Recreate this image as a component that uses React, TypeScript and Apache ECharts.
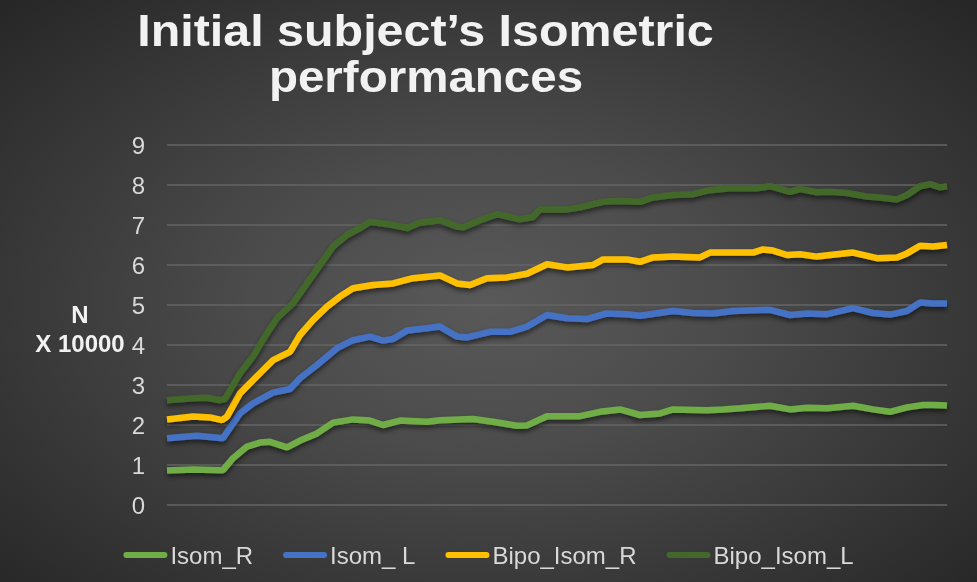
import React, { useEffect, useRef } from "react";
import * as echarts from "echarts";

// sample index (time) and force (N x 10000)
const isomR: [number, number][] = [
  [0, 0.86], [26, 0.89], [56, 0.87], [66, 1.17], [80, 1.46], [93, 1.56], [103, 1.58],
  [120, 1.44], [133, 1.61], [150, 1.79], [166, 2.06], [186, 2.14], [203, 2.11], [216, 2.0],
  [233, 2.11], [260, 2.08], [273, 2.12], [306, 2.15], [326, 2.08], [350, 1.98], [360, 1.99],
  [380, 2.22], [413, 2.22], [433, 2.33], [453, 2.39], [473, 2.25], [493, 2.29], [506, 2.39],
  [540, 2.37], [556, 2.39], [573, 2.42], [603, 2.48], [623, 2.39], [640, 2.43], [660, 2.42],
  [686, 2.48], [706, 2.39], [723, 2.33], [740, 2.44], [756, 2.5], [766, 2.5], [780, 2.49],
];
const isomL: [number, number][] = [
  [0, 1.67], [30, 1.73], [56, 1.67], [73, 2.29], [86, 2.54], [106, 2.81], [123, 2.9],
  [133, 3.17], [150, 3.5], [170, 3.92], [186, 4.12], [203, 4.21], [216, 4.11], [226, 4.15],
  [240, 4.36], [260, 4.42], [273, 4.46], [290, 4.21], [300, 4.19], [323, 4.33], [343, 4.33],
  [360, 4.46], [380, 4.75], [400, 4.67], [420, 4.65], [440, 4.79], [460, 4.77], [473, 4.73],
  [506, 4.85], [526, 4.8], [546, 4.79], [566, 4.85], [586, 4.87], [603, 4.88], [623, 4.75],
  [640, 4.79], [660, 4.77], [686, 4.92], [706, 4.8], [723, 4.76], [740, 4.85], [753, 5.06],
  [766, 5.04], [780, 5.04],
];
const bipoIsomR: [number, number][] = [
  [0, 2.14], [26, 2.21], [43, 2.19], [55, 2.12], [60, 2.21], [73, 2.79], [86, 3.12],
  [106, 3.62], [123, 3.83], [133, 4.25], [146, 4.62], [160, 4.96], [173, 5.21], [186, 5.42],
  [206, 5.5], [226, 5.54], [246, 5.67], [273, 5.74], [290, 5.54], [303, 5.5], [320, 5.67],
  [340, 5.69], [360, 5.78], [380, 6.02], [400, 5.94], [426, 6.0], [436, 6.14], [460, 6.14],
  [473, 6.08], [486, 6.19], [506, 6.21], [533, 6.19], [543, 6.31], [566, 6.31], [586, 6.31],
  [596, 6.39], [606, 6.36], [620, 6.25], [633, 6.27], [650, 6.21], [663, 6.25], [686, 6.31],
  [710, 6.17], [730, 6.19], [740, 6.29], [753, 6.48], [766, 6.46], [780, 6.5],
];
const bipoIsomL: [number, number][] = [
  [0, 2.62], [26, 2.67], [40, 2.68], [53, 2.62], [58, 2.65], [73, 3.29], [86, 3.71],
  [100, 4.29], [110, 4.67], [126, 5.04], [140, 5.54], [153, 6.0], [166, 6.46], [180, 6.75],
  [193, 6.92], [203, 7.08], [226, 7.0], [240, 6.92], [253, 7.06], [273, 7.12], [290, 6.96],
  [296, 6.94], [313, 7.12], [330, 7.27], [353, 7.14], [366, 7.2], [373, 7.39], [400, 7.39],
  [413, 7.44], [436, 7.58], [453, 7.6], [473, 7.58], [486, 7.69], [506, 7.75], [526, 7.77],
  [543, 7.87], [563, 7.92], [590, 7.92], [603, 7.97], [623, 7.83], [633, 7.9], [650, 7.82],
  [663, 7.83], [680, 7.8], [700, 7.71], [713, 7.69], [730, 7.64], [740, 7.75], [753, 7.97],
  [763, 8.02], [773, 7.94], [780, 7.97],
];

const seriesNames = ["Isom_R", "Isom_ L", "Bipo_Isom_R", "Bipo_Isom_L"];
const seriesColors = ["#70AD47", "#4472C4", "#FFC000", "#43682B"];
const seriesData = [isomR, isomL, bipoIsomR, bipoIsomL];
const titleLines = ["Initial subject\u2019s Isometric", "performances"];
const axisTitle = "N\nX 10000";

const FONT = '"Liberation Sans", Arial, sans-serif';

export default function App() {
  const ref = useRef<HTMLDivElement>(null);
  useEffect(() => {
    if (!ref.current) return;
    const chart = echarts.init(ref.current, undefined, { renderer: "svg" });
    const legendIcon = "path://M3,0 H41 A3,3 0 0 1 41,6 H3 A3,3 0 0 1 3,0 Z";
    chart.setOption({
      animation: false,
      backgroundColor: "transparent",
      textStyle: { fontFamily: FONT },
      grid: { left: 167, right: 30, top: 145, bottom: 77 },
      xAxis: {
        type: "value",
        min: 0,
        max: 780,
        show: false,
        splitLine: { show: false },
      },
      yAxis: {
        type: "value",
        min: 0,
        max: 9,
        interval: 1,
        axisLine: { show: false },
        axisTick: { show: false },
        axisLabel: { color: "#d9d9d9", fontSize: 24, margin: 22, fontFamily: FONT },
        splitLine: { lineStyle: { color: "#646464", width: 1.5 } },
      },
      legend: {
        left: "center",
        top: 538,
        itemWidth: 44,
        itemHeight: 6,
        itemGap: 30,
        icon: legendIcon,
        textStyle: { color: "#d9d9d9", fontSize: 24, fontFamily: FONT, padding: [0, 0, 0, -2] },
        data: seriesNames,
      },
      graphic: [
        {
          type: "text",
          x: 425.5,
          y: 31,
          scaleX: 1.1,
          style: {
            text: titleLines[0],
            font: `bold 44px ${FONT}`,
            fill: "#f2f2f2",
            align: "center",
            verticalAlign: "middle",
            shadowColor: "rgba(0,0,0,0.6)",
            shadowBlur: 4,
            shadowOffsetY: 2,
          },
        },
        {
          type: "text",
          x: 426,
          y: 77,
          scaleX: 1.08,
          style: {
            text: titleLines[1],
            font: `bold 44px ${FONT}`,
            fill: "#f2f2f2",
            align: "center",
            verticalAlign: "middle",
            shadowColor: "rgba(0,0,0,0.6)",
            shadowBlur: 4,
            shadowOffsetY: 2,
          },
        },
        {
          type: "text",
          x: 80,
          y: 329,
          style: {
            text: axisTitle,
            font: `bold 24px ${FONT}`,
            fill: "#f2f2f2",
            align: "center",
            verticalAlign: "middle",
            lineHeight: 29,
          },
        },
      ],
      series: seriesData.map((d, i) => ({
        name: seriesNames[i],
        type: "line",
        data: d,
        symbol: "none",
        smooth: false,
        color: seriesColors[i],
        lineStyle: {
          color: seriesColors[i],
          width: 6.5,
          shadowColor: "rgba(0,0,0,0.55)",
          shadowBlur: 5,
          shadowOffsetY: 3,
        },
        itemStyle: { color: seriesColors[i] },
      })),
    });
    return () => chart.dispose();
  }, []);
  return (
    <div
      ref={ref}
      style={{
        position: "fixed",
        left: 0,
        top: 0,
        width: 977,
        height: 582,
        background:
          "radial-gradient(ellipse farthest-corner at 50% 52%, #595959 0%, #4b4b4b 35%, #363636 72%, #262626 100%)",
      }}
    />
  );
}
